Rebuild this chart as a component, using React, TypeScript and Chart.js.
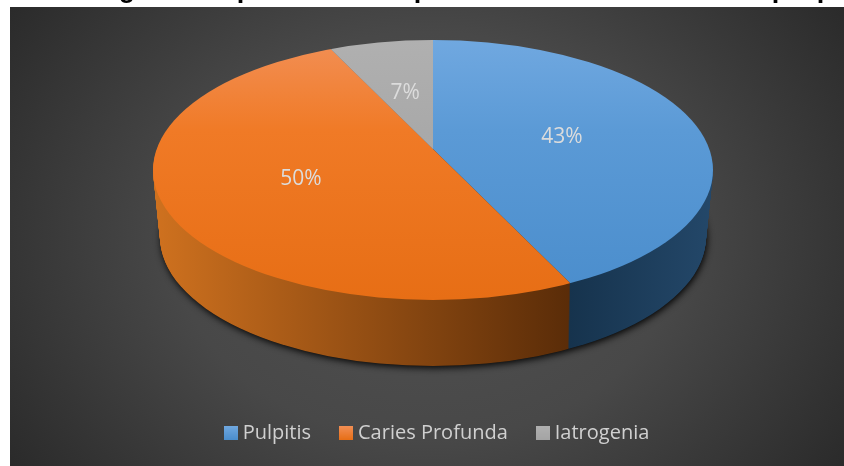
import React, { useEffect, useRef } from "react";
import { Chart, registerables } from "chart.js";

Chart.register(...registerables);

const categories = ["Pulpitis", "Caries Profunda", "Iatrogenia"];
const values = [43, 50, 7];
const topColors = [
  ["#70a8e0", "#4a8dcc"],
  ["#f28f55", "#e76e15"],
  ["#b0b0b0", "#a4a4a4"],
];
const midColors = ["#5b9ad6", "#f07a26", "#a9a9a9"];
const sideColors = [
  ["#16334d", "#24486a"],
  ["#d0721f", "#5a2c08"],
  ["#666666", "#666666"],
];
const labelReach = [132, 146, 128];

const APEX = { x: 433, y: 149 };
const TOP = { x: 433, y: 170, rx: 280, ry: 130 };
const BOTTOM = { x: 433, y: 237, rx: 273, ry: 129 };
const DEPTH = 67;
const SPAN = 340;
const SQUASH = 0.46;

const pie3d = {
  id: "pie3d",
  beforeDraw(chart: any) {
    const { ctx } = chart;
    ctx.save();
    ctx.fillStyle = "#ffffff";
    ctx.fillRect(0, 0, 844, 466);
    ctx.translate(427, 236);
    ctx.scale(1, 0.8);
    const g = ctx.createRadialGradient(0, 0, 0, 0, 0, 510);
    g.addColorStop(0, "#525252");
    g.addColorStop(0.5, "#484848");
    g.addColorStop(1, "#2a2a2a");
    ctx.fillStyle = g;
    ctx.fillRect(-417, -229 / 0.8, 834, 459 / 0.8);
    ctx.restore();
    ctx.save();
    ctx.fillStyle = "#000000";
    ctx.font = "bold 27px 'Liberation Sans'";
    ctx.textAlign = "center";
    ctx.textBaseline = "alphabetic";
    ctx.fillText("g", 127, -3);
    ctx.fillText("p", 245, -3);
    ctx.fillText("p", 422, -3);
    ctx.fillText("p", 780, -3);
    ctx.fillText("p", 825, -3);
    ctx.restore();
  },
  afterLayout(chart: any) {
    const lg = chart.legend;
    const dx = 439 - (lg.left + lg.right) / 2;
    const h = lg.bottom - lg.top;
    lg.left += dx;
    lg.right += dx;
    lg.top = 390;
    lg.bottom = 390 + h;
  },
  beforeDatasetDraw(chart: any) {
    const { ctx } = chart;
    const arcs = chart.getDatasetMeta(0).data;
    const a = arcs[0];
    const sx = SPAN / a.outerRadius;
    const sy = (SPAN * SQUASH) / a.outerRadius;

    const mapTo = (dy: number) => {
      ctx.translate(APEX.x, APEX.y + dy);
      ctx.scale(sx, sy);
      ctx.translate(-a.x, -a.y);
    };

    // cast shadow under the disc
    ctx.save();
    ctx.shadowColor = "rgba(0,0,0,0.95)";
    ctx.shadowBlur = 7;
    ctx.shadowOffsetX = 1;
    ctx.shadowOffsetY = 2;
    ctx.fillStyle = "#111111";
    ctx.beginPath();
    ctx.ellipse(BOTTOM.x, BOTTOM.y, BOTTOM.rx, BOTTOM.ry, 0, 0, Math.PI * 2);
    ctx.fill();
    ctx.restore();

    // wall: the same arcs, stacked from the floor up
    arcs.forEach((arc: any, i: number) => {
      const from = a.x + ((i === 0 ? 570 : 150) - APEX.x) / sx;
      const to = a.x + ((i === 0 ? 715 : 570) - APEX.x) / sx;
      const g = ctx.createLinearGradient(from, 0, to, 0);
      g.addColorStop(0, sideColors[i][0]);
      g.addColorStop(1, sideColors[i][1]);
      arc.$side = g;
    });
    const tops = arcs.map((arc: any) => arc.options);
    for (let d = DEPTH; d >= 1; d--) {
      const t = d / DEPTH;
      ctx.save();
      ctx.beginPath();
      ctx.ellipse(
        TOP.x + (BOTTOM.x - TOP.x) * t,
        TOP.y + (BOTTOM.y - TOP.y) * t,
        TOP.rx + (BOTTOM.rx - TOP.rx) * t,
        TOP.ry + (BOTTOM.ry - TOP.ry) * t,
        0, 0, Math.PI * 2
      );
      ctx.clip();
      mapTo(d);
      arcs.forEach((arc: any, i: number) => {
        arc.options = { ...tops[i], backgroundColor: arc.$side, borderWidth: 0 };
        arc.draw(ctx);
      });
      ctx.restore();
    }

    // lid: the library's own pass draws it under this transform
    arcs.forEach((arc: any, i: number) => {
      const y0 = a.y + (40 - APEX.y) / sy;
      const y1 = a.y + (300 - APEX.y) / sy;
      const g = ctx.createLinearGradient(0, y0, 0, y1);
      g.addColorStop(0, topColors[i][0]);
      g.addColorStop(0.35, midColors[i]);
      g.addColorStop(1, topColors[i][1]);
      arc.options = { ...tops[i], backgroundColor: g, borderWidth: 0 };
    });
    ctx.save();
    ctx.beginPath();
    ctx.ellipse(TOP.x, TOP.y, TOP.rx, TOP.ry, 0, 0, Math.PI * 2);
    ctx.clip();
    mapTo(0);
  },
  afterDatasetDraw(chart: any) {
    const { ctx } = chart;
    ctx.restore();
    const arcs = chart.getDatasetMeta(0).data;
    ctx.save();
    ctx.fillStyle = "#dcdcdc";
    ctx.font = "21px 'Open Sans'";
    ctx.textAlign = "center";
    ctx.textBaseline = "middle";
    arcs.forEach((arc: any, i: number) => {
      const mid = (arc.startAngle + arc.endAngle) / 2;
      const r = labelReach[i];
      const x = APEX.x + Math.cos(mid) * r;
      const y = APEX.y + Math.sin(mid) * r * SQUASH;
      ctx.fillText(`${values[i]}%`, x, y + 1);
    });
    ctx.restore();
  },
};

export default function App() {
  const ref = useRef<HTMLCanvasElement | null>(null);
  useEffect(() => {
    if (!ref.current) return;
    const swatches = topColors.map(([a, b]) => {
      const c = document.createElement("canvas");
      c.width = 14;
      c.height = 14;
      const x = c.getContext("2d")!;
      const g = x.createLinearGradient(0, 0, 0, 14);
      g.addColorStop(0, a);
      g.addColorStop(1, b);
      x.fillStyle = g;
      x.fillRect(0, 0, 14, 14);
      return c;
    });
    const chart = new Chart(ref.current, {
      type: "pie",
      data: {
        labels: categories,
        datasets: [
          {
            data: values,
            backgroundColor: topColors.map((c) => c[1]),
            borderWidth: 0,
            hoverOffset: 0,
          },
        ],
      },
      options: {
        responsive: false,
        animation: false,
        rotation: 0,
        layout: { padding: 0 },
        plugins: {
          tooltip: { enabled: false },
          legend: {
            display: true,
            position: "bottom",
            labels: {
              usePointStyle: true,
              boxWidth: 4,
              boxHeight: 14,
              padding: 33,
              color: "#d0d0d0",
              font: { family: "'Open Sans'", size: 20 },
              generateLabels: () =>
                categories.map((text, i) => ({
                  text,
                  index: i,
                  hidden: false,
                  pointStyle: swatches[i],
                  fillStyle: topColors[i][1],
                  strokeStyle: "transparent",
                  lineWidth: 0,
                  fontColor: "#d0d0d0",
                })),
            },
          },
        },
      },
      plugins: [pie3d],
    } as any);
    return () => chart.destroy();
  }, []);
  return (
    <div style={{ position: "fixed", left: 0, top: 0, width: 844, height: 466 }}>
      <canvas ref={ref} width={844} height={466} style={{ display: "block" }} />
    </div>
  );
}
